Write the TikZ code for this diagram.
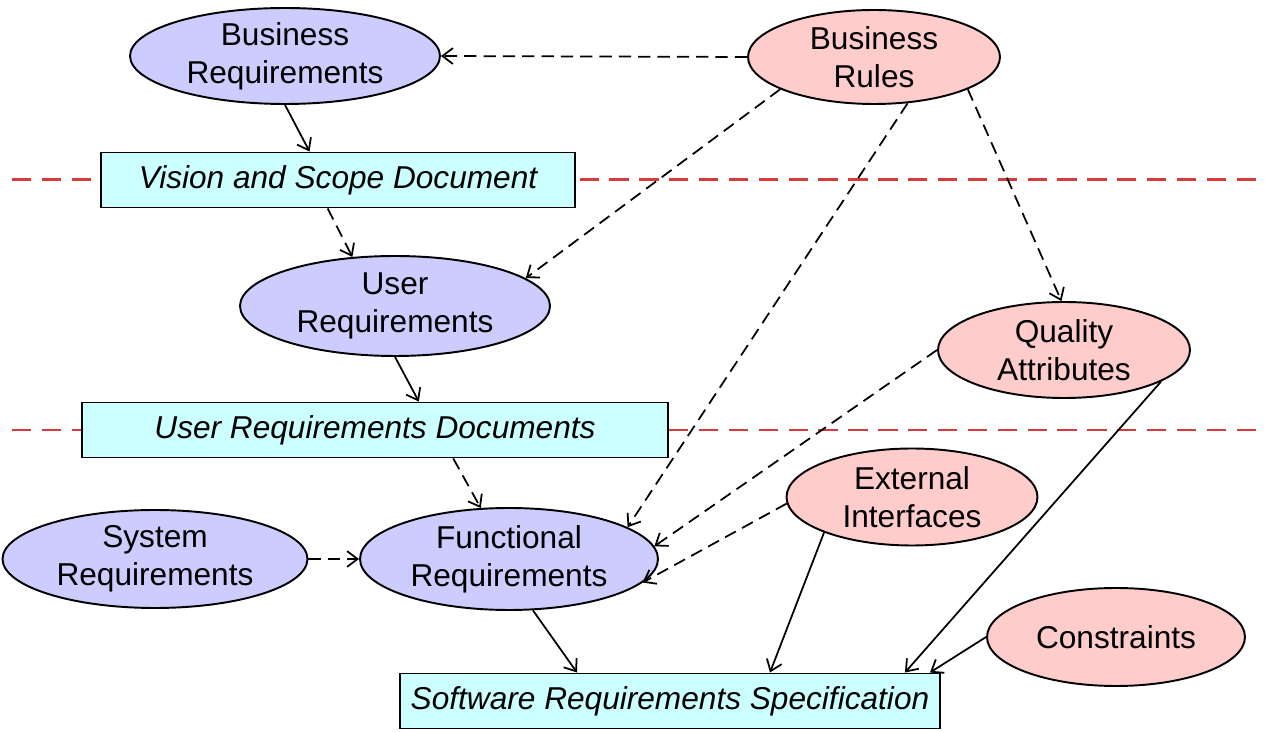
\documentclass[tikz,border=0pt]{standalone}
\usepackage{fontspec}
\setmainfont{Liberation Sans}
\usetikzlibrary{shapes.geometric,arrows.meta}

\definecolor{reqblue}{RGB}{204,204,255}
\definecolor{rulepink}{RGB}{255,204,204}
\definecolor{doccyan}{RGB}{204,255,255}
\definecolor{levelred}{RGB}{214,58,58}

\tikzset{
  req/.style={ellipse, draw, line width=1.1pt, fill=reqblue, inner sep=0pt,
    align=center, font=\fontsize{18}{21.5}\selectfont},
  rule/.style={req, fill=rulepink},
  doc/.style={rectangle, draw, line width=1.1pt, fill=doccyan, inner sep=0pt,
    minimum height=1.1cm, font=\fontsize{18}{21.5}\selectfont\itshape},
  flow/.style={line width=1pt, -{Straight Barb[length=6pt,width=9pt]}},
  ref/.style={flow, dash pattern=on 7pt off 4pt},
  level/.style={levelred, line width=1.7pt, dash pattern=on 11pt off 6pt}
}

\begin{document}
\begin{tikzpicture}[x=0.02cm, y=-0.02cm]
  % Page size of the reference
  \useasboundingbox (0,0) rectangle (1265,732);

  % Level separators
  \draw[level] (12,180) -- (1265,180);
  \draw[level] (12,430) -- (1265,430);

  % Requirement levels (left)
  \node[req, minimum width=6.2cm, minimum height=1.92cm] (breq) at (285,56) {Business\\Requirements};
  \node[doc, minimum width=9.48cm] (vision) at (338,180) {Vision and Scope Document};
  \node[req, minimum width=6.2cm, minimum height=2cm] (ureq) at (395,306) {User\\Requirements};
  \node[doc, minimum width=11.72cm] (urd) at (375,430) {User Requirements Documents};
  \node[req, minimum width=6.1cm, minimum height=1.96cm] (sysreq) at (155,559) {System\\Requirements};
  \node[req, minimum width=5.96cm, minimum height=2.04cm] (freq) at (509,559) {Functional\\Requirements};
  \node[doc, minimum width=10.8cm] (srs) at (670,701) {Software Requirements Specification};

  % Other inputs (right)
  \node[rule, minimum width=5.04cm, minimum height=1.88cm] (brules) at (874,57) {Business\\Rules};
  \node[rule, minimum width=5.04cm, minimum height=1.92cm] (quality) at (1064,350) {Quality\\Attributes};
  \node[rule, minimum width=5.02cm, minimum height=1.94cm] (extif) at (912,497) {External\\Interfaces};
  \node[rule, minimum width=5.16cm, minimum height=1.96cm] (constr) at (1116,637) {Constraints};

  % Main flow
  \draw[flow] (breq.south) -- (vision.135);
  \draw[ref] (vision.250) -- (ureq.131);
  \draw[flow] (ureq.south) -- (urd.33);
  \draw[ref] (urd.340) -- (freq.119);
  \draw[ref] (sysreq.east) -- (freq.west);
  \draw[flow] (freq.295) -- ([xshift=-1.86cm]srs.north);

  % Business rules influence
  \draw[ref] (brules.west) -- (breq.east);
  \draw[ref] (brules.199) -- (ureq.12);
  \draw[ref] (brules.306) -- (freq.15);
  \draw[ref] (brules.341) -- (quality.93);

  % Inputs to functional requirements and SRS
  \draw[ref] (quality.west) -- (freq.5);
  \draw[ref] (extif.183) -- (freq.350);
  \draw[flow] (extif.202) -- ([xshift=2cm]srs.north);
  \draw[flow] (quality.342) -- ([xshift=4.7cm]srs.north);
  \draw[flow] (constr.west) -- ([xshift=5.2cm]srs.north);
\end{tikzpicture}
\end{document}
